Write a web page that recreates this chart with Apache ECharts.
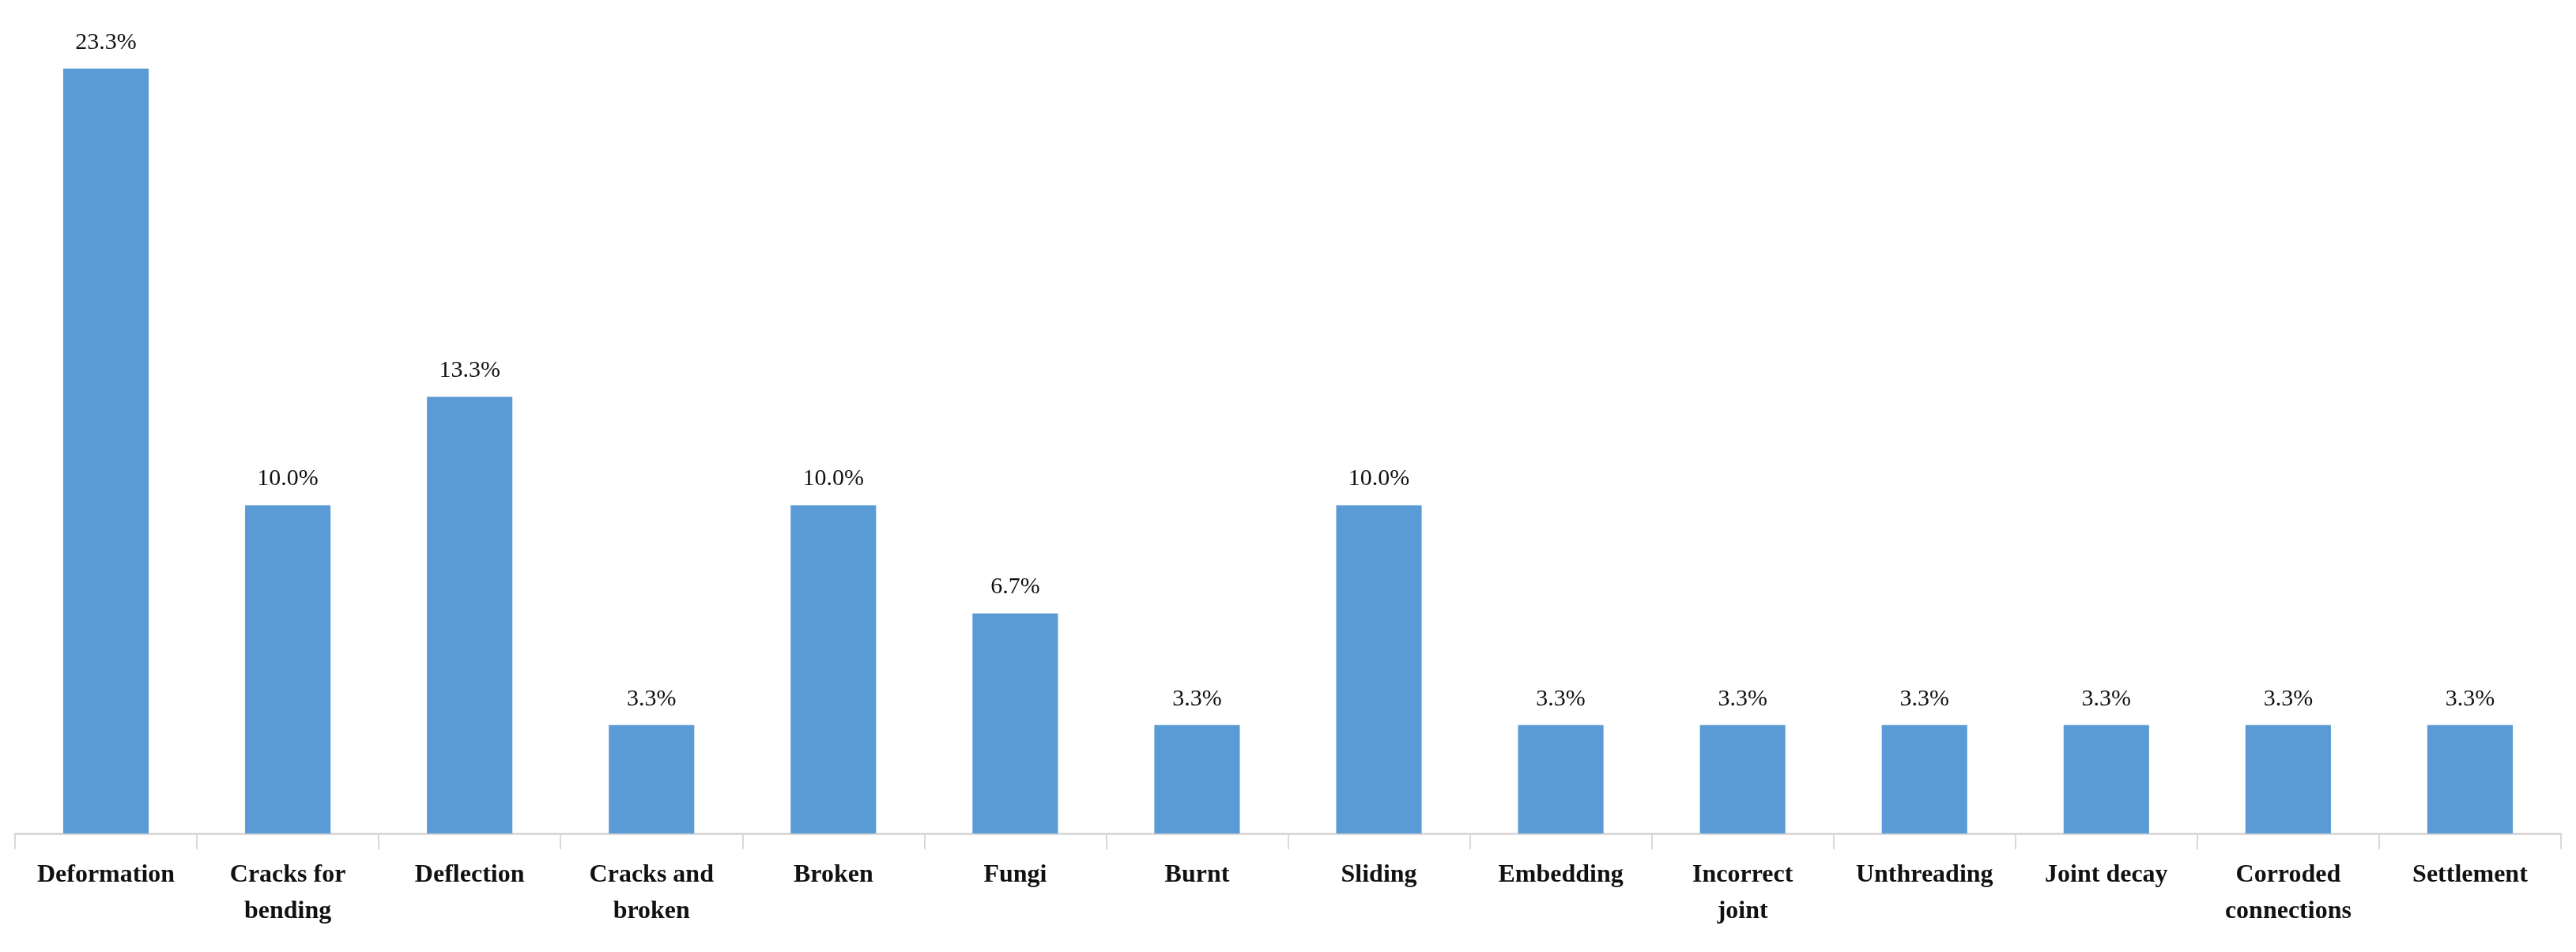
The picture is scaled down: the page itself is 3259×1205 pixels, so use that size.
<!DOCTYPE html>
<html>
<head>
<meta charset="utf-8">
<script src="https://cdn.jsdelivr.net/npm/echarts@6/dist/echarts.min.js"></script>
<style>html,body{margin:0;padding:0;background:#fff}#main{width:3259px;height:1205px}</style>
</head>
<body>
<div id="main"></div>
<script>
var categories = ['Deformation', 'Cracks for\nbending', 'Deflection', 'Cracks and\nbroken', 'Broken', 'Fungi', 'Burnt', 'Sliding', 'Embedding', 'Incorrect\njoint', 'Unthreading', 'Joint decay', 'Corroded\nconnections', 'Settlement'];
var values = [23.3, 10.0, 13.3, 3.3, 10.0, 6.7, 3.3, 10.0, 3.3, 3.3, 3.3, 3.3, 3.3, 3.3];

var chart = echarts.init(document.getElementById('main'));
var option = {
    animation: false,
    grid: {
        left: 19,
        right: 19,
        top: 16,
        bottom: 150
    },
    xAxis: {
        type: 'category',
        data: categories,
        axisLine: {lineStyle: {color: '#d9d9d9', width: 3}},
        axisTick: {show: true, length: 20, lineStyle: {color: '#d9d9d9', width: 2}},
        axisLabel: {
            interval: 0,
            margin: 30,
            lineHeight: 46,
            fontFamily: 'Liberation Serif',
            fontWeight: 'bold',
            fontSize: 32,
            color: '#111'
        }
    },
    yAxis: {
        type: 'value',
        min: 0,
        max: 25,
        show: false,
        splitLine: {show: false}
    },
    series: [{
        type: 'bar',
        data: values,
        barWidth: '47%',
        itemStyle: {color: '#5b9bd5'},
        label: {
            show: true,
            position: 'top',
            distance: 18,
            fontFamily: 'Liberation Serif',
            fontSize: 30,
            color: '#111',
            formatter: function (p) { return p.value.toFixed(1) + '%'; }
        }
    }]
};
chart.setOption(option);
</script>
</body>
</html>
